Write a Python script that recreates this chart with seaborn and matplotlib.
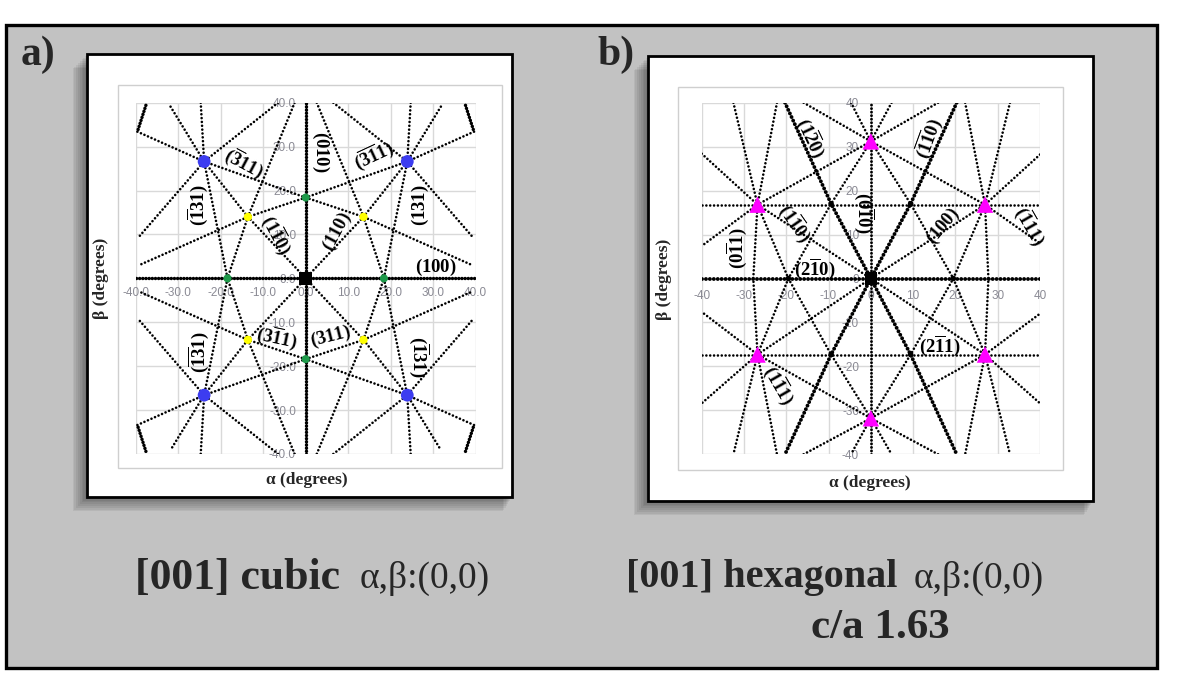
import matplotlib
matplotlib.use('Agg')
import matplotlib.pyplot as plt
import seaborn as sns
from matplotlib.patches import Rectangle

W, H = 1184, 689

# ---------------- cubic map (degrees) ----------------
cubic_black_x = [0.0]
cubic_black_y = [0.0]
cubic_green_x = [0.0, 0.0, -18.4, 18.4]
cubic_green_y = [18.4, -18.4, 0.0, 0.0]
cubic_yellow_x = [-13.6, 13.6, -13.6, 13.6]
cubic_yellow_y = [14.0, 14.0, -14.0, -14.0]
cubic_blue_x = [-23.9, 23.9, -23.9, 23.9]
cubic_blue_y = [26.6, 26.6, -26.6, -26.6]

cubic_dense_lines = [
    [(-40, 0), (40, 0)],
    [(0, -40), (0, 40)],
    [(-37.6, 39.4), (-39.6, 33.4)],
    [(37.6, 39.4), (39.6, 33.4)],
    [(-37.6, -39.4), (-39.6, -33.4)],
    [(37.6, -39.4), (39.6, -33.4)],
]
cubic_diag_lines = [
    [(-31.8, 39.1), (-23.9, 26.6), (-13.6, 14.0), (0, 0), (13.6, -14.0), (23.9, -26.6), (31.8, -39.1)],
    [(31.8, 39.1), (23.9, 26.6), (13.6, 14.0), (0, 0), (-13.6, -14.0), (-23.9, -26.6), (-31.8, -39.1)],
]
cubic_311_lines = [
    [(-39.6, 33.4), (-23.9, 26.6), (0, 18.4), (13.6, 14.0), (39.2, 3.0)],
    [(39.6, 33.4), (23.9, 26.6), (0, 18.4), (-13.6, 14.0), (-39.2, 3.0)],
    [(-39.6, -33.4), (-23.9, -26.6), (0, -18.4), (13.6, -14.0), (39.2, -3.0)],
    [(39.6, -33.4), (23.9, -26.6), (0, -18.4), (-13.6, -14.0), (-39.2, -3.0)],
]
cubic_131_lines = [
    [(-24.7, 40), (-23.9, 26.6), (-18.4, 0), (-13.6, -14.0), (-2.6, -40)],
    [(-2.6, 40), (-13.6, 14.0), (-18.4, 0), (-23.9, -26.6), (-24.7, -40)],
    [(24.7, 40), (23.9, 26.6), (18.4, 0), (13.6, -14.0), (2.6, -40)],
    [(2.6, 40), (13.6, 14.0), (18.4, 0), (23.9, -26.6), (24.7, -40)],
]
cubic_outer_lines = [
    [(-6.5, 40), (-23.9, 26.6), (-39.2, 9.5)],
    [(6.5, 40), (23.9, 26.6), (39.2, 9.5)],
    [(-6.5, -40), (-23.9, -26.6), (-39.2, -9.5)],
    [(6.5, -40), (23.9, -26.6), (39.2, -9.5)],
]
cubic_label_text = [r'(\overline{3}11)', r'(010)', r'(\overline{3}\overline{1}1)', r'(\overline{1}31)',
                    r'(1\overline{1}0)', r'(110)', r'(131)', r'(100)', r'(3\overline{1}1)', r'(311)',
                    r'(\overline{1}\overline{3}1)', r'(\overline{1}31)']
cubic_label_x = [-14.4, 3.5, 16.1, -25.5, -6.7, 7.5, 27.1, 30.6, -6.7, 5.9, -25.1, 26.7]
cubic_label_y = [26.2, 28.8, 28.1, 16.7, 9.9, 10.6, 16.7, 2.5, -13.3, -13.3, -16.7, -17.8]
cubic_label_rot = [-28, -90, 25, 90, -62, 62, 90, 0, -12, 14, 90, -90]
cubic_ticks = [-40, -30, -20, -10, 0, 10, 20, 30, 40]
cubic_tick_labels = ['-40.0', '-30.0', '-20.0', '-10.0', '0.0', '10.0', '20.0', '30.0', '40.0']

# ---------------- hexagonal map (degrees) ----------------
hex_black_x = [0.0]
hex_black_y = [0.0]
hex_tri_x = [0.0, -26.8, 27.0, -26.8, 27.0, 0.0]
hex_tri_y = [31.2, 16.8, 16.8, -17.3, -17.3, -31.8]
hex_small_x = [9.4, -9.4, 9.4, -9.4, 19.5, -19.5]
hex_small_y = [17.0, 17.0, -17.3, -17.3, 0.0, 0.0]

hex_dense_lines = [
    [(-40, 0), (40, 0)],
    [(-20.3, 40), (-9.4, 17.0), (0, 0), (9.4, -17.3), (20.3, -40)],
    [(20.3, 40), (9.4, 17.0), (0, 0), (-9.4, -17.3), (-20.3, -40)],
]
hex_mid_lines = [
    [(0, -40), (0, 40)],
]
hex_regular_lines = [
    [(-40, 16.8), (40, 16.8)],
    [(-40, -17.3), (40, -17.3)],
    [(-40, 28.4), (-26.8, 16.8), (0, 0), (27.0, -17.3), (40, -28.4)],
    [(40, 28.2), (27.0, 16.8), (0, 0), (-26.8, -17.3), (-40, -28.4)],
    [(-15.9, 40), (0, 31.2), (27.0, 16.8), (40, 8.0)],
    [(15.9, 40), (0, 31.2), (-26.8, 16.8), (-40, 7.4)],
    [(-15.9, -40), (0, -31.8), (27.0, -17.3), (40, -8.0)],
    [(15.9, -40), (0, -31.8), (-26.8, -17.3), (-40, -7.6)],
    [(-4.7, 40), (0, 31.2), (9.4, 17.0), (19.5, 0), (27.0, -17.3), (32.9, -40)],
    [(4.9, 40), (0, 31.2), (-9.4, 17.0), (-19.5, 0), (-26.8, -17.3), (-32.5, -40)],
    [(32.9, 40), (27.0, 16.8), (19.5, 0), (9.4, -17.3), (0, -31.8), (-4.7, -40)],
    [(-32.5, 40), (-26.8, 16.8), (-19.5, 0), (-9.4, -17.3), (0, -31.8), (4.9, -40)],
    [(-22.2, 40), (-26.8, 16.8), (-27.8, 0), (-26.8, -17.3), (-22.2, -40)],
    [(22.3, 40), (27.0, 16.8), (27.8, 0), (27.0, -17.3), (22.3, -40)],
]
hex_label_text = [r'(1\overline{2}0)', r'(\overline{1}\overline{1}0)', r'(0\overline{1}0)', r'(1\overline{1}0)',
                  r'(100)', r'(\overline{1}11)', r'(0\overline{1}1)', r'(2\overline{1}0)',
                  r'(2\overline{1}1)', r'(1\overline{1}1)']
hex_label_x = [-14.2, 13.6, -1.5, -17.9, 17.2, 37.7, -31.7, -13.2, 16.4, -21.8]
hex_label_y = [32.0, 32.0, 14.9, 12.7, 11.9, 11.9, 7.0, 2.3, -15.2, -24.1]
hex_label_rot = [-65, 70, -90, -55, 50, -60, 90, 0, 0, -60]
hex_ticks = [-40, -30, -20, -10, 0, 10, 20, 30, 40]
hex_tick_labels = ['-40', '-30', '-20', '-10', '0', '10', '20', '30', '40']

SERIF = ['Liberation Serif', 'DejaVu Serif']

sns.set_theme(style='white')
plt.rcParams['font.family'] = SERIF
plt.rcParams['mathtext.fontset'] = 'custom'
plt.rcParams['mathtext.rm'] = 'Liberation Serif'
plt.rcParams['mathtext.bf'] = 'Liberation Serif:bold'
plt.rcParams['mathtext.it'] = 'Liberation Serif:italic'

fig = plt.figure(figsize=(W / 100, H / 100), dpi=100)
fig.patch.set_facecolor('white')


def fx(px):
    return px / W


def fy(py):
    return 1 - py / H


def box(x0, y0, x1, y1, **kw):
    r = Rectangle((fx(x0), fy(y1)), (x1 - x0) / W, (y1 - y0) / H,
                  transform=fig.transFigure, **kw)
    fig.add_artist(r)


# textured board and frame
box(6, 25, 1157, 668, facecolor='#c2c2c2', edgecolor='black', lw=2.4, zorder=-5)

# panels with soft shadow
for (x0, y0, x1, y1) in [(87, 54, 512, 497), (648, 56, 1093, 501)]:
    for k in range(1, 9):
        d = 1.8 * k
        box(x0 - d, y0 + d, x1 - d * 0.6, y1 + d, facecolor='black', edgecolor='none',
            alpha=0.06, zorder=-4)
    box(x0, y0, x1, y1, facecolor='white', edgecolor='black', lw=2, zorder=-3)

# inner chart frames
box(118, 85, 502, 468, facecolor='none', edgecolor='#cfcfcf', lw=1, zorder=-2)
box(678, 87, 1063, 470, facecolor='none', edgecolor='#cfcfcf', lw=1, zorder=-2)


def draw_lines(ax, lines, lw, gap):
    for line in lines:
        xs = [p[0] for p in line]
        ys = [p[1] for p in line]
        sns.lineplot(x=xs, y=ys, ax=ax, sort=False, estimator=None, color='black',
                     lw=lw, linestyle=(0, (0.01, gap)), dash_capstyle='round',
                     legend=False, zorder=3)


def setup_axes(ax, ticks, tick_labels, xpad, ypad):
    ax.set_xlim(-40, 40)
    ax.set_ylim(-40, 40)
    ax.set_facecolor('white')
    ax.set_xticks(ticks)
    ax.set_yticks(ticks)
    ax.set_xticklabels(tick_labels)
    ax.set_yticklabels(tick_labels)
    ax.grid(True, color='#d9d9d9', lw=1.0)
    ax.set_axisbelow(True)
    for s in ['top', 'right']:
        ax.spines[s].set_visible(False)
    ax.spines['left'].set_position('zero')
    ax.spines['bottom'].set_position('zero')
    ax.spines['left'].set_color('none')
    ax.spines['bottom'].set_color('none')
    ax.tick_params(axis='x', length=0, pad=xpad, labelsize=8.5, labelcolor='#8a8a94')
    ax.tick_params(axis='y', length=0, pad=ypad, labelsize=8.5, labelcolor='#8a8a94')
    for t in ax.get_xticklabels() + ax.get_yticklabels():
        t.set_family(['Liberation Sans', 'DejaVu Sans'])
    ax.set_xlabel('')
    ax.set_ylabel('')


def add_labels(ax, texts, xs, ys, rots):
    for t, x, y, r in zip(texts, xs, ys, rots):
        ax.text(x, y, r'$\mathbf{' + t + '}$', rotation=r, ha='center', va='center',
                rotation_mode='anchor', fontsize=13.5, color='black', zorder=4)


# ---------------- panel a ----------------
ax1 = fig.add_axes([fx(135.7), fy(454), 340 / W, 351.3 / H])
draw_lines(ax1, cubic_dense_lines, 2.5, 0.9)
draw_lines(ax1, cubic_diag_lines, 1.9, 1.45)
draw_lines(ax1, cubic_311_lines, 1.9, 1.45)
draw_lines(ax1, cubic_131_lines, 1.9, 1.45)
draw_lines(ax1, cubic_outer_lines, 1.9, 1.45)
sns.scatterplot(x=cubic_green_x, y=cubic_green_y, ax=ax1, color='#1e9a4a', s=34,
                edgecolor='none', zorder=5, legend=False)
sns.scatterplot(x=cubic_yellow_x, y=cubic_yellow_y, ax=ax1, color='#ffff00', s=36,
                edgecolor='none', zorder=5, legend=False)
sns.scatterplot(x=cubic_blue_x, y=cubic_blue_y, ax=ax1, color='#3c3cf0', s=85,
                edgecolor='none', zorder=5, legend=False)
sns.scatterplot(x=cubic_black_x, y=cubic_black_y, ax=ax1, color='black', marker='s', s=95,
                edgecolor='none', zorder=5, legend=False)
setup_axes(ax1, cubic_ticks, cubic_tick_labels, 6.5, 7)
add_labels(ax1, cubic_label_text, cubic_label_x, cubic_label_y, cubic_label_rot)

# ---------------- panel b ----------------
ax2 = fig.add_axes([fx(701.7), fy(454.3), 338.3 / W, 351.6 / H])
draw_lines(ax2, hex_dense_lines, 2.8, 1.0)
draw_lines(ax2, hex_mid_lines, 2.1, 1.2)
draw_lines(ax2, hex_regular_lines, 1.9, 1.45)
sns.scatterplot(x=hex_small_x, y=hex_small_y, ax=ax2, color='black', s=16,
                edgecolor='none', zorder=5, legend=False)
sns.scatterplot(x=hex_tri_x, y=hex_tri_y, ax=ax2, color='#ff00ff', marker='^', s=140,
                edgecolor='none', zorder=5, legend=False)
sns.scatterplot(x=hex_black_x, y=hex_black_y, ax=ax2, color='black', marker='s', s=75,
                edgecolor='none', zorder=5, legend=False)
setup_axes(ax2, hex_ticks, hex_tick_labels, 8.5, 8.5)
add_labels(ax2, hex_label_text, hex_label_x, hex_label_y, hex_label_rot)

# axis titles
lab = dict(fontsize=12.5, weight='bold', family=SERIF, ha='center', va='center')
fig.text(fx(307), fy(480), 'α (degrees)', **lab)
fig.text(fx(101), fy(278), 'β (degrees)', rotation=90, **lab)
fig.text(fx(870), fy(483), 'α (degrees)', **lab)
fig.text(fx(664), fy(279), 'β (degrees)', rotation=90, **lab)

# panel letters
fig.text(fx(21), fy(55), 'a)', fontsize=30, weight='bold', family=SERIF, ha='left', va='center')
fig.text(fx(597), fy(55), 'b)', fontsize=30, weight='bold', family=SERIF, ha='left', va='center')

# captions
fig.text(fx(340), fy(578), '[001] cubic', fontsize=31.5, weight='bold', family=SERIF,
         ha='right', va='center')
fig.text(fx(360), fy(578), 'α,β:(0,0)', fontsize=27, family=SERIF, ha='left', va='center')
fig.text(fx(897), fy(578), '[001] hexagonal', fontsize=29, weight='bold', family=SERIF,
         ha='right', va='center')
fig.text(fx(914), fy(578), 'α,β:(0,0)', fontsize=27, family=SERIF, ha='left', va='center')
fig.text(fx(880), fy(628), 'c/a 1.63', fontsize=31, weight='bold', family=SERIF,
         ha='center', va='center')

fig.savefig('out.png', dpi=100, facecolor=fig.get_facecolor())
